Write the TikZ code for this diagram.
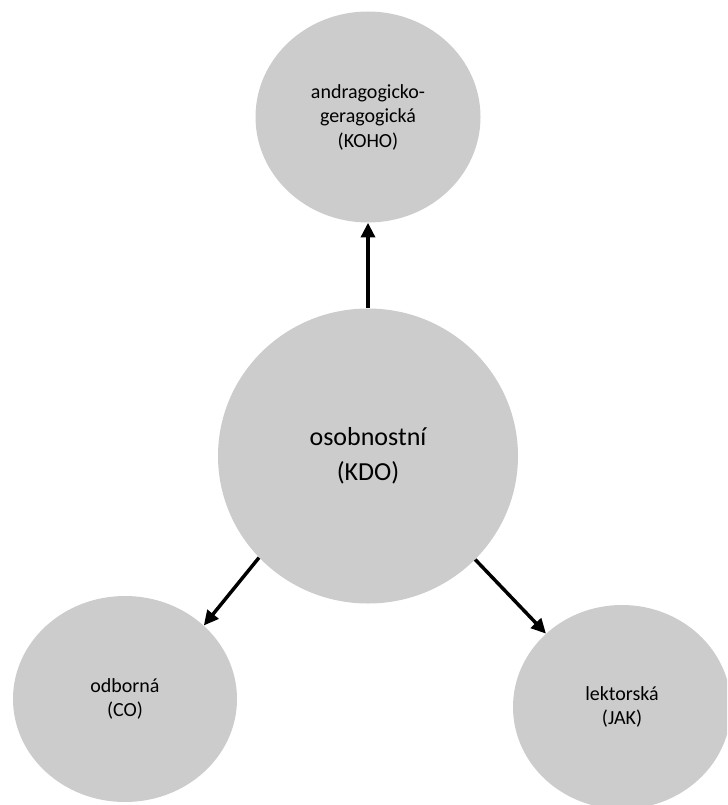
\documentclass[tikz,border=0pt]{standalone}
\usepackage{fontspec}
\setmainfont{Carlito}
\usetikzlibrary{arrows.meta,shapes.geometric}
\definecolor{bubblegray}{RGB}{204,204,204}
\begin{document}
\begin{tikzpicture}[x=0.75pt,y=-0.75pt,
    bubble/.style={ellipse,fill=bubblegray,inner sep=0pt,align=center,
      font=\fontsize{15}{18.4}\selectfont},
    link/.style={-{Triangle[length=11pt,width=10.5pt]},line width=2.6pt}]
    \clip (0,0) rectangle (727,805);
    \node[bubble,minimum width=168.75pt,minimum height=158.25pt] (koho) at (368,117)
      {andragogicko-\\geragogická\\(KOHO)};
    \node[bubble,minimum width=225pt,minimum height=221.25pt,
      font=\fontsize{19.5}{26}\selectfont] (kdo) at (368,456) {osobnostní\\(KDO)};
    \node[bubble,minimum width=168pt,minimum height=154.5pt] (co) at (125,699)
      {odborná\\(CO)};
    \node[bubble,minimum width=163.5pt,minimum height=153pt] (jak) at (622,707)
      {lektorská\\(JAK)};
    \draw[link] (kdo.north) -- (koho.south);
    \draw[link] (kdo.223) -- (co.43);
    \draw[link] (kdo.-44) -- (jak.136);
  \end{tikzpicture}
\end{document}
